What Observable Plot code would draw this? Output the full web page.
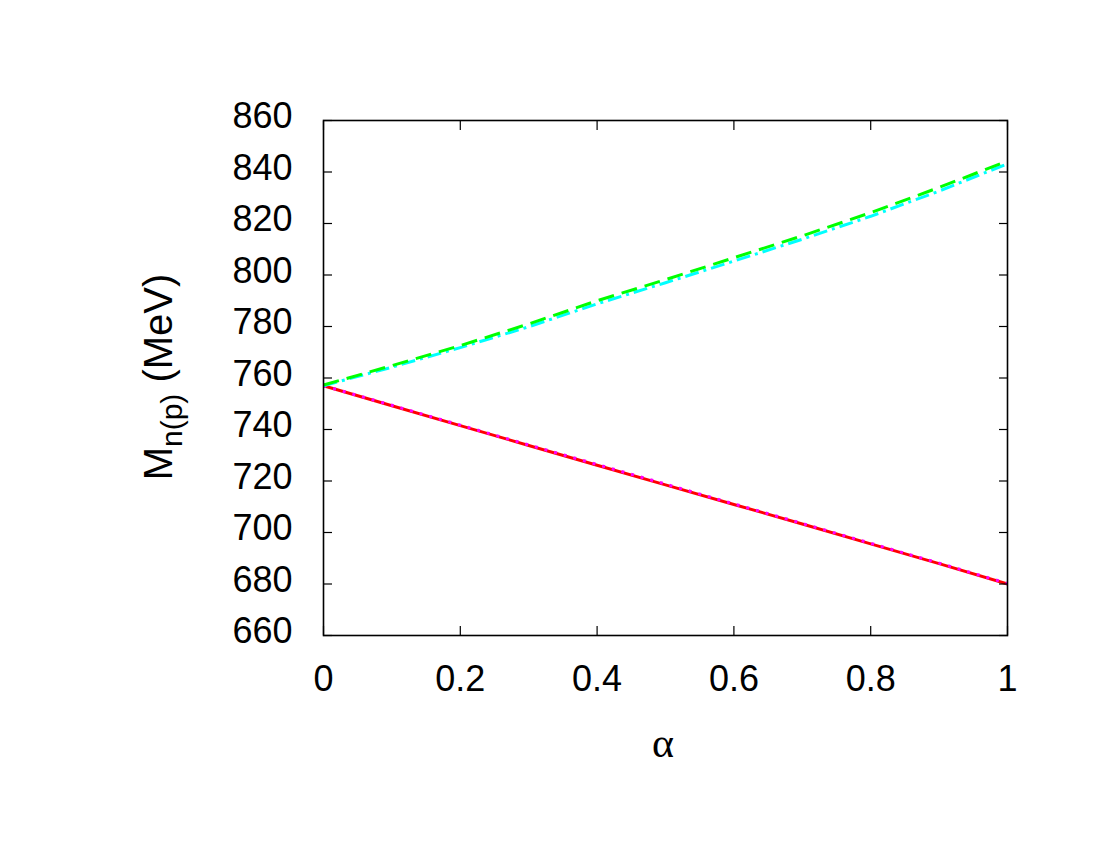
<!DOCTYPE html>
<html>
<head>
<meta charset="utf-8">
<script src="https://cdn.jsdelivr.net/npm/d3@7"></script>
<script src="https://cdn.jsdelivr.net/npm/@observablehq/plot@0.6"></script>
<style>
  body { margin: 0; background: #fff; }
  #chart svg { display: block; }
</style>
</head>
<body>
<div id="chart"></div>
<script>
const alpha = [0, 0.1, 0.2, 0.3, 0.4, 0.5, 0.6, 0.7, 0.8, 0.9, 1.0];
const redSolid    = [757, 749.2, 741.5, 733.8, 726.1, 718.5, 710.9, 703.3, 695.6, 687.9, 680.0];
const magentaDot  = [757, 749.4, 741.7, 734.0, 726.4, 718.8, 711.1, 703.5, 695.8, 688.1, 680.2];
const greenDash   = [757.3, 764.8, 772.6, 781.0, 790.0, 798.2, 806.7, 815.2, 824.2, 834.0, 844.3];
const cyanDashDot = [757.0, 764.2, 771.8, 779.9, 788.8, 797.0, 805.4, 813.9, 822.8, 832.6, 843.2];
const xTicks = [0, 0.2, 0.4, 0.6, 0.8, 1];
const yTicks = [660, 680, 700, 720, 740, 760, 780, 800, 820, 840, 860];

const series = [
  {name: "red", values: redSolid, stroke: "#ff0000", dash: null},
  {name: "magenta", values: magentaDot, stroke: "#ff00ff", dash: "3,7"},
  {name: "cyan", values: cyanDashDot, stroke: "#00ffff", dash: "14,5,3,5"},
  {name: "green", values: greenDash, stroke: "#00ff00", dash: "16,8"}
];

const lineMarks = series.map(s =>
  Plot.line(alpha.map((a, i) => ({a, v: s.values[i]})), {
    x: "a", y: "v", stroke: s.stroke, strokeWidth: 3,
    strokeDasharray: s.dash, strokeLinecap: "butt", curve: "linear"
  })
);

const tickOpts = {tickSize: -9, tickFormat: () => "", stroke: "#000", strokeWidth: 1.2, label: null};

const chart = Plot.plot({
  width: 1100,
  height: 850,
  marginLeft: 323,
  marginRight: 93,
  marginTop: 120,
  marginBottom: 215,
  style: {fontFamily: "'Liberation Sans', Arial, Helvetica, sans-serif", background: "#fff"},
  x: {domain: [0, 1], label: null},
  y: {domain: [660, 860], label: null},
  marks: [
    ...lineMarks,
    // inward ticks on all four sides
    Plot.axisY(yTicks, {anchor: "left", ...tickOpts}),
    Plot.axisY(yTicks, {anchor: "right", ...tickOpts}),
    Plot.axisX(xTicks, {anchor: "bottom", ...tickOpts}),
    Plot.axisX(xTicks, {anchor: "top", ...tickOpts}),
    // tick labels
    Plot.axisY(yTicks, {anchor: "left", tickSize: 0, tickPadding: 31, fontSize: 36, fill: "#000", dy: -4, label: null}),
    Plot.axisX(xTicks, {anchor: "bottom", tickSize: 0, tickPadding: 30, fontSize: 36, fill: "#000", tickFormat: d => String(d), label: null}),
    Plot.frame({stroke: "#000", strokeWidth: 1.6})
  ]
});

document.getElementById("chart").appendChild(chart);

// axis titles
const svg = d3.select(chart);
svg.append("text")
  .attr("x", 663).attr("y", 757)
  .attr("text-anchor", "middle")
  .attr("font-family", "'Liberation Serif', 'DejaVu Serif', serif")
  .attr("font-size", 42)
  .attr("fill", "#000")
  .text("α");

const yl = svg.append("text")
  .attr("transform", "translate(172,377) rotate(-90)")
  .attr("text-anchor", "middle")
  .attr("font-family", "'Liberation Sans', Arial, sans-serif")
  .attr("font-size", 40)
  .attr("fill", "#000");
yl.append("tspan").text("M");
yl.append("tspan").attr("font-size", 30).attr("dy", 10).text("n(p)");
yl.append("tspan").attr("dy", -10).text(" (MeV)");
</script>
</body>
</html>
